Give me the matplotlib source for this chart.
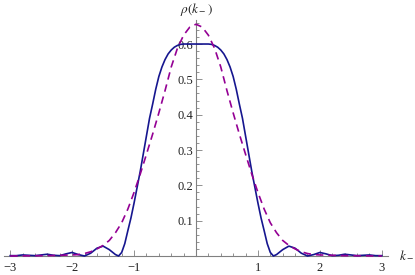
import matplotlib
matplotlib.use("Agg")
import matplotlib.pyplot as plt
from matplotlib.ticker import FixedLocator

plt.rcParams['font.family'] = ['Liberation Serif', 'DejaVu Serif']
plt.rcParams['mathtext.fontset'] = 'stix'

# values
k_solid = [-3.0, -2.9, -2.8, -2.7, -2.6, -2.5, -2.4, -2.3, -2.2, -2.1, -2.0, -1.9, -1.8,
           -1.7, -1.6, -1.5, -1.4, -1.3, -1.25, -1.2, -1.15, -1.1, -1.05, -1.0, -0.95,
           -0.9, -0.85, -0.8, -0.75, -0.7, -0.65, -0.6, -0.55, -0.5, -0.45, -0.4, -0.35,
           -0.3, -0.25, -0.2, -0.1, 0.0, 0.1, 0.2, 0.25, 0.3, 0.35, 0.4, 0.45, 0.5, 0.55,
           0.6, 0.65, 0.7, 0.75, 0.8, 0.85, 0.9, 0.95, 1.0, 1.05, 1.1, 1.15, 1.2, 1.25,
           1.3, 1.4, 1.5, 1.6, 1.7, 1.8, 1.9, 2.0, 2.1, 2.2, 2.3, 2.4, 2.5, 2.6, 2.7,
           2.8, 2.9, 3.0]
rho_solid = [0.001, 0.001, 0.003, 0.002, 0.001, 0.003, 0.005, 0.002, 0.001, 0.006, 0.010,
             0.004, 0.000, 0.008, 0.022, 0.028, 0.018, 0.004, 0.000, 0.010, 0.035, 0.072,
             0.108, 0.150, 0.195, 0.240, 0.290, 0.340, 0.390, 0.430, 0.472, 0.508, 0.535,
             0.556, 0.572, 0.583, 0.591, 0.596, 0.599, 0.600, 0.600, 0.600, 0.600, 0.600,
             0.599, 0.596, 0.591, 0.583, 0.572, 0.556, 0.535, 0.508, 0.472, 0.430, 0.390,
             0.340, 0.290, 0.240, 0.195, 0.150, 0.108, 0.072, 0.035, 0.010, 0.000, 0.004,
             0.018, 0.028, 0.022, 0.008, 0.000, 0.004, 0.010, 0.006, 0.001, 0.002, 0.005,
             0.003, 0.001, 0.002, 0.003, 0.001, 0.001]

k_dashed = [-3.0, -2.7, -2.4, -2.2, -2.0, -1.9, -1.8, -1.7, -1.6, -1.5, -1.4, -1.3, -1.2,
            -1.1, -1.0, -0.9, -0.8, -0.7, -0.6, -0.5, -0.4, -0.3, -0.2, -0.1, 0.0, 0.1,
            0.2, 0.3, 0.4, 0.5, 0.6, 0.7, 0.8, 0.9, 1.0, 1.1, 1.2, 1.3, 1.4, 1.5, 1.6,
            1.7, 1.8, 1.9, 2.0, 2.2, 2.4, 2.7, 3.0]
rho_dashed = [0.000, 0.0005, 0.001, 0.002, 0.003, 0.004, 0.007, 0.012, 0.020, 0.030, 0.044,
              0.066, 0.094, 0.133, 0.180, 0.232, 0.288, 0.345, 0.405, 0.468, 0.535, 0.588,
              0.625, 0.648, 0.656, 0.648, 0.625, 0.588, 0.535, 0.468, 0.405, 0.345, 0.288,
              0.232, 0.180, 0.133, 0.094, 0.066, 0.044, 0.030, 0.020, 0.012, 0.007, 0.004,
              0.003, 0.002, 0.001, 0.0005, 0.000]

x_major = [-3, -2, -1, 1, 2, 3]
y_major = [0.1, 0.2, 0.3, 0.4, 0.5, 0.6]

fig = plt.figure(figsize=(4.15, 2.75), dpi=100)
ax = fig.add_axes([4 / 415, 19 / 275, 384 / 415, 236 / 275])

ax.plot(k_solid, rho_solid, color='#16168f', lw=1.2, clip_on=False, zorder=3)
ax.plot(k_dashed, rho_dashed, color='#940094', lw=1.2, ls=(0, (4.5, 3)),
        clip_on=False, zorder=4)

ax.set_xlim(-3.1, 3.1)
ax.set_ylim(0, 0.668)

for s in ['top', 'right']:
    ax.spines[s].set_visible(False)
ax.spines['left'].set_position(('data', 0))
for s in ['left', 'bottom']:
    ax.spines[s].set_color('#808080')
    ax.spines[s].set_linewidth(0.8)

ax.xaxis.set_major_locator(FixedLocator(x_major))
ax.yaxis.set_major_locator(FixedLocator(y_major))
x_minor = [i / 5 for i in range(-15, 16) if i % 5 != 0]
y_minor = [i / 50 for i in range(1, 34) if i % 5 != 0]
ax.xaxis.set_minor_locator(FixedLocator(x_minor))
ax.yaxis.set_minor_locator(FixedLocator(y_minor))
ax.set_xticklabels(['\u22123', '\u22122', '\u22121', '1', '2', '3'])
ax.set_yticklabels(['0.1', '0.2', '0.3', '0.4', '0.5', '0.6'])

ax.tick_params(which='both', direction='in', color='#808080', width=0.6,
               labelsize=9, labelcolor='#222222')
ax.tick_params(which='major', length=4)
ax.tick_params(which='minor', length=2.2)
ax.tick_params(axis='x', pad=4)
ax.tick_params(axis='y', pad=2)

fig.text(196 / 415, 1 - 9 / 275, r'$\rho(k_-)$', ha='center', va='center',
         fontsize=9.5, color='#222222')
fig.text(399 / 415, 19 / 275, r'$k_-$', ha='left', va='center',
         fontsize=9.5, color='#222222')

fig.savefig('out.png', dpi=100)
